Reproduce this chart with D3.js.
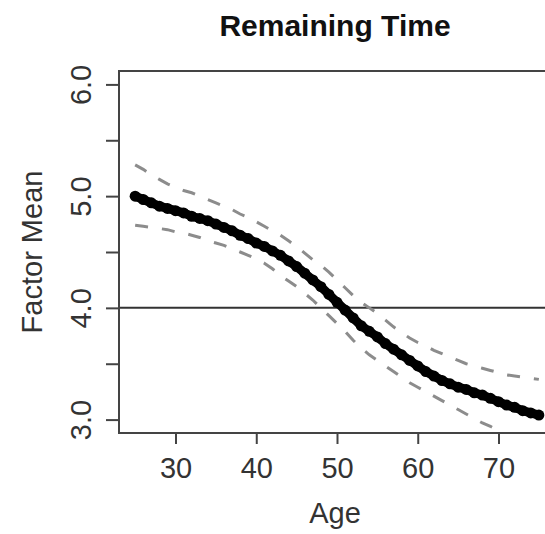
<!DOCTYPE html>
<html>
<head>
<meta charset="utf-8">
<script src="https://cdn.jsdelivr.net/npm/d3@7"></script>
<style>
  body { margin: 0; background: #fff; }
  svg text { font-family: "Liberation Sans", Arial, sans-serif; }
</style>
</head>
<body>
<div id="chart"></div>
<script>
// values, one per year of age
const ages = d3.range(25, 76);
const meanValues = [
  5.00, 4.97, 4.94, 4.91, 4.89, 4.87, 4.85, 4.82, 4.80, 4.78,
  4.75, 4.72, 4.69, 4.65, 4.62, 4.58, 4.55, 4.51, 4.47, 4.42,
  4.37, 4.31, 4.25, 4.19, 4.12, 4.05, 3.98, 3.91, 3.84, 3.79,
  3.74, 3.68, 3.63, 3.58, 3.53, 3.48, 3.43, 3.39, 3.35, 3.32,
  3.29, 3.27, 3.24, 3.22, 3.19, 3.16, 3.13, 3.11, 3.08, 3.06, 3.04
];
const upperValues = [
  5.28, 5.24, 5.19, 5.15, 5.11, 5.08, 5.05, 5.03, 5.00, 4.97,
  4.94, 4.91, 4.88, 4.84, 4.81, 4.77, 4.73, 4.69, 4.65, 4.60,
  4.55, 4.49, 4.43, 4.38, 4.32, 4.25, 4.18, 4.11, 4.05, 4.00,
  3.95, 3.89, 3.83, 3.78, 3.73, 3.69, 3.66, 3.62, 3.59, 3.56,
  3.53, 3.50, 3.48, 3.46, 3.44, 3.42, 3.40, 3.39, 3.38, 3.37, 3.36
];
const lowerValues = [
  4.74, 4.73, 4.72, 4.71, 4.70, 4.68, 4.67, 4.65, 4.63, 4.60,
  4.58, 4.56, 4.53, 4.50, 4.47, 4.44, 4.40, 4.35, 4.29, 4.24,
  4.19, 4.13, 4.07, 4.00, 3.93, 3.86, 3.79, 3.71, 3.64, 3.58,
  3.53, 3.48, 3.43, 3.38, 3.33, 3.29, 3.25, 3.21, 3.17, 3.13,
  3.09, 3.05, 3.01, 2.97, 2.94, 2.90, 2.86, 2.83, 2.80, 2.77, 2.74
];
const xTicks = [30, 40, 50, 60, 70];
const yTicks = [3.0, 3.5, 4.0, 4.5, 5.0, 5.5, 6.0];
const refLine = 4.0;

const width = 545, height = 534;
const plot = { left: 119, top: 71, right: 555, bottom: 433 };

const svg = d3.select('#chart').append('svg')
  .attr('width', width)
  .attr('height', height);

// R-style 4% padding around xlim = c(25,75), ylim = c(3,6)
const x = d3.scaleLinear().domain([23, 77]).range([plot.left, plot.right]);
const y = d3.scaleLinear().domain([2.88, 6.12]).range([plot.bottom, plot.top]);

svg.append('defs').append('clipPath').attr('id', 'clip')
  .append('rect')
  .attr('x', plot.left).attr('y', plot.top)
  .attr('width', plot.right - plot.left)
  .attr('height', plot.bottom - plot.top);

const g = svg.append('g').attr('clip-path', 'url(#clip)');

// reference line
g.append('line')
  .attr('x1', plot.left).attr('x2', plot.right)
  .attr('y1', y(refLine)).attr('y2', y(refLine))
  .attr('stroke', '#333').attr('stroke-width', 2);

const line = d3.line().x((d, i) => x(ages[i])).y(d => y(d));

[upperValues, lowerValues].forEach(vals => {
  g.append('path')
    .datum(vals)
    .attr('d', line)
    .attr('fill', 'none')
    .attr('stroke', '#8c8c8c')
    .attr('stroke-width', 3)
    .attr('stroke-dasharray', '13,14');
});

g.append('path')
  .datum(meanValues)
  .attr('d', line)
  .attr('fill', 'none')
  .attr('stroke', '#000')
  .attr('stroke-width', 9)
  .attr('stroke-linejoin', 'round');

g.selectAll('.pt')
  .data(meanValues)
  .join('circle')
  .attr('class', 'pt')
  .attr('cx', (d, i) => x(ages[i]))
  .attr('cy', d => y(d))
  .attr('r', 5.5)
  .attr('fill', '#000');

// box (right side falls outside the picture)
svg.append('rect')
  .attr('x', plot.left).attr('y', plot.top)
  .attr('width', plot.right - plot.left)
  .attr('height', plot.bottom - plot.top)
  .attr('fill', 'none')
  .attr('stroke', '#444')
  .attr('stroke-width', 2);

// axes
const xAxis = svg.append('g')
  .attr('transform', `translate(0,${plot.bottom})`)
  .call(d3.axisBottom(x).tickValues(xTicks).tickSize(11).tickPadding(13).tickFormat(d3.format('d')));
xAxis.select('.domain').remove();
xAxis.selectAll('line').attr('stroke', '#444').attr('stroke-width', 2);
xAxis.selectAll('text')
  .attr('font-size', 29)
  .attr('fill', '#333')
  .attr('dy', '0.71em');

const yAxis = svg.append('g')
  .attr('transform', `translate(${plot.left},0)`)
  .call(d3.axisLeft(y).tickValues(yTicks).tickSize(13));
yAxis.select('.domain').remove();
yAxis.selectAll('line').attr('stroke', '#444').attr('stroke-width', 2);
yAxis.selectAll('text')
  .text(d => Number.isInteger(d) ? d3.format('.1f')(d) : '')
  .attr('transform', 'rotate(-90)')
  .attr('x', 0)
  .attr('y', -28)
  .attr('dy', 0)
  .attr('text-anchor', 'middle')
  .attr('font-size', 29)
  .attr('fill', '#333');

// titles
svg.append('text')
  .attr('x', 335).attr('y', 36)
  .attr('text-anchor', 'middle')
  .attr('font-size', 30)
  .attr('font-weight', 'bold')
  .attr('fill', '#111')
  .text('Remaining Time');

svg.append('text')
  .attr('x', 335).attr('y', 523)
  .attr('text-anchor', 'middle')
  .attr('font-size', 29)
  .attr('fill', '#333')
  .text('Age');

svg.append('text')
  .attr('transform', `translate(42,${(plot.top + plot.bottom) / 2}) rotate(-90)`)
  .attr('text-anchor', 'middle')
  .attr('font-size', 29)
  .attr('fill', '#333')
  .text('Factor Mean');
</script>
</body>
</html>
